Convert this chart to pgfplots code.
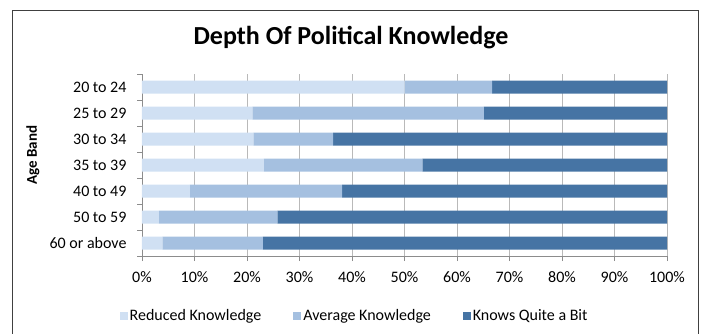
\documentclass[border=0pt]{standalone}
\usepackage{pgfplots}
\pgfplotsset{compat=1.18}
\usepackage{fontspec}
\setmainfont{Carlito}

\definecolor{reduced}{RGB}{208,224,243}
\definecolor{average}{RGB}{165,192,224}
\definecolor{quitebit}{RGB}{70,116,164}
\definecolor{gridgray}{RGB}{185,185,185}
\definecolor{axisgray}{RGB}{140,140,140}

% Shares of each age band (percent), listed from "60 or above" (y=0) up to "20 to 24" (y=6)
\begin{document}
\begin{tikzpicture}[x=1pt,y=1pt]
\useasboundingbox (0,0) rectangle (702,333);
% chart frame (bottom edge lies outside the picture)
\draw[black!75, line width=0.8pt] (12.5,-2) -- (12.5,323) -- (698,323) -- (698,-2);
\node[font=\bfseries\fontsize{26}{28}\selectfont] at (351,295) {Depth Of Political Knowledge};
\node[font=\bfseries\fontsize{15}{17}\selectfont, rotate=90] at (33,178) {Age Band};
\begin{axis}[
  at={(142pt,77pt)}, anchor=south west,
  scale only axis, width=525pt, height=182pt,
  xbar stacked, bar width=13pt,
  xmin=0, xmax=100, ymin=-0.5, ymax=6.5,
  axis x line*=bottom, axis y line*=left,
  axis line style={axisgray, line width=0.8pt},
  tick align=outside,
  major tick length=5pt,
  xtick={0,10,...,100},
  xticklabel={\pgfmathprintnumber{\tick}\%},
  % tick marks sit on the boundaries between age bands
  ytick={-0.5,0.5,...,6.5},
  yticklabels={},
  extra y ticks={0,...,6},
  extra y tick labels={60 or above,50 to 59,40 to 49,35 to 39,30 to 34,25 to 29,20 to 24},
  extra y tick style={tick style={draw=none}},
  tick style={axisgray, line width=0.8pt},
  xmajorgrids, major grid style={gridgray, line width=0.9pt},
  tick label style={font=\fontsize{16}{18}\selectfont},
  /pgf/number format/assume math mode=true,
  xticklabel style={yshift=-7pt},
  yticklabel style={xshift=-7pt},
  legend style={at={(0.405,-0.33)}, anchor=center, draw=none, fill=none,
    legend columns=-1, font=\fontsize{16}{18}\selectfont,
    /tikz/every even column/.append style={column sep=30pt}},
  legend image code/.code={\fill[#1] (0pt,-4pt) rectangle (8pt,4pt);},
  clip=false,
]
\addplot[fill=reduced, draw=none] coordinates {
  (3.9,0) (3.2,1) (9.1,2) (23.2,3) (21.2,4) (21.0,5) (50.0,6)};
\addplot[fill=average, draw=none] coordinates {
  (19.1,0) (22.6,1) (29.0,2) (30.2,3) (15.2,4) (44.1,5) (16.7,6)};
\addplot[fill=quitebit, draw=none] coordinates {
  (77.0,0) (74.2,1) (61.9,2) (46.6,3) (63.6,4) (34.9,5) (33.3,6)};
\legend{Reduced Knowledge, Average Knowledge, Knows Quite a Bit}
\end{axis}
\end{tikzpicture}
\end{document}
